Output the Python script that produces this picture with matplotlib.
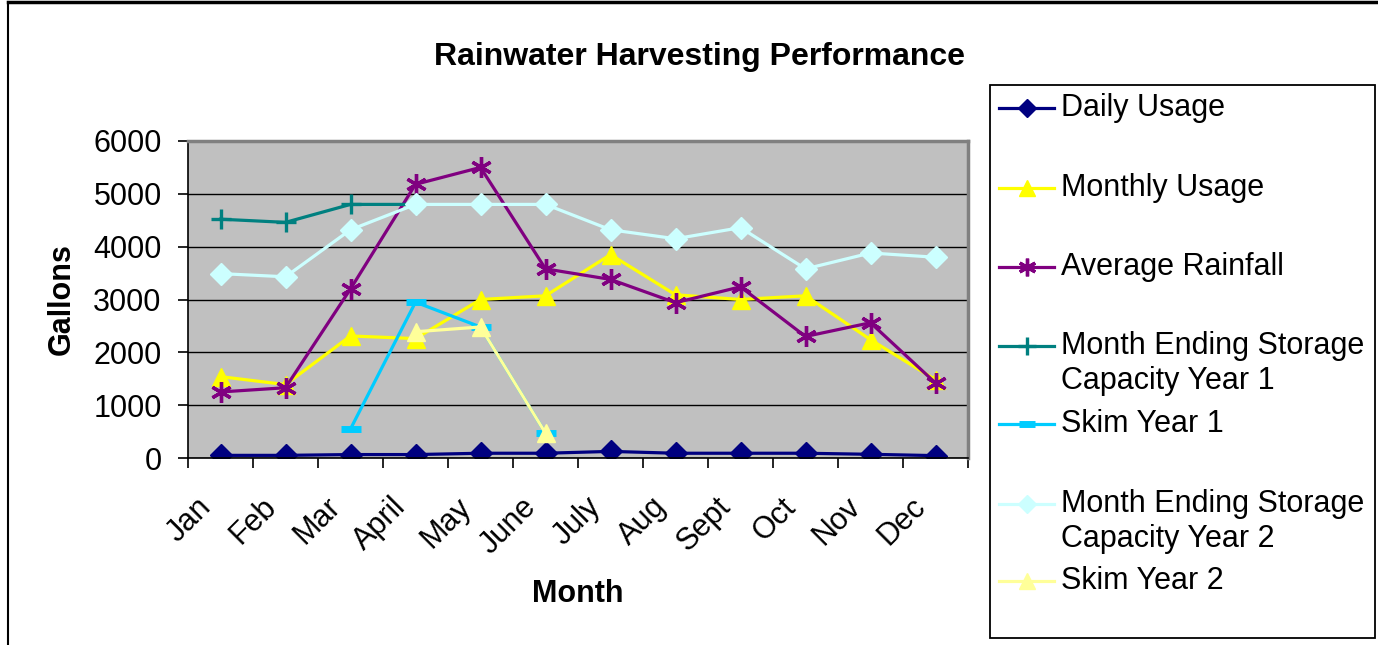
import numpy as np
import matplotlib
matplotlib.use("Agg")
from matplotlib import pyplot as plt
from matplotlib.lines import Line2D
from matplotlib.patches import Rectangle
import matplotlib.transforms as mtransforms

plt.rcParams['font.family'] = ['Liberation Sans', 'DejaVu Sans']

months = ["Jan", "Feb", "Mar", "April", "May", "June", "July", "Aug", "Sept", "Oct", "Nov", "Dec"]
nan = np.nan

daily_usage = [50, 50, 65, 65, 90, 90, 125, 90, 90, 90, 70, 45]
monthly_usage = [1540, 1390, 2310, 2260, 3000, 3070, 3850, 3090, 3000, 3070, 2240, 1480]
avg_rainfall = [1250, 1330, 3200, 5180, 5500, 3580, 3380, 2940, 3240, 2300, 2560, 1420]
storage_y1 = [4520, 4460, 4800, 4800, nan, nan, nan, nan, nan, nan, nan, nan]
skim_y1 = [nan, nan, 550, 2950, 2480, 470, nan, nan, nan, nan, nan, nan]
storage_y2 = [3490, 3430, 4320, 4800, 4800, 4800, 4320, 4150, 4360, 3580, 3880, 3800]
skim_y2 = [nan, nan, nan, 2390, 2480, 470, nan, nan, nan, nan, nan, nan]

labels = ["Daily Usage", "Monthly Usage", "Average Rainfall",
          "Month Ending Storage\nCapacity Year 1", "Skim Year 1",
          "Month Ending Storage\nCapacity Year 2", "Skim Year 2"]
series = [daily_usage, monthly_usage, avg_rainfall, storage_y1, skim_y1, storage_y2, skim_y2]
colors = ["#000080", "#FFFF00", "#800080", "#008080", "#00CCFF", "#CCFFFF", "#FFFF99"]
markers = ["D", "^", (6, 2, 0), "+", "_", "D", "^"]
msizes = [11, 13, 15, 15, 14, 11, 13]
mews = [1, 1, 2.4, 2.4, 5, 1, 1]

W, H = 1378, 645
fig = plt.figure(figsize=(W / 100, H / 100), dpi=100)
ax = fig.add_axes([188 / W, 1 - 458 / H, (968 - 188) / W, (458 - 141) / H])
ax.set_facecolor("#C0C0C0")

x = np.arange(len(months))
for vals, c, m, ms, mw in zip(series, colors, markers, msizes, mews):
    ax.plot(x, vals, color=c, lw=2.3, marker=m, markersize=ms,
            markerfacecolor=c, markeredgecolor=c, markeredgewidth=mw)

ax.set_xlim(-0.5, 11.5)
ax.set_ylim(0, 6000)
ax.set_yticks(np.arange(0, 6001, 1000))
ax.yaxis.grid(True, color="black", lw=1)
ax.set_axisbelow(True)
ax.set_xticks(x)
ax.set_xticklabels(months, rotation=45, ha="right", va="center", rotation_mode="anchor")
ax.set_xticks(np.arange(-0.5, 12, 1), minor=True)
ax.tick_params(axis="x", which="major", length=0, pad=32, labelsize=22)
ax.tick_params(axis="x", which="minor", length=7, width=1.2, direction="out")
ax.tick_params(axis="y", length=7, width=1.2, direction="out", pad=12, labelsize=22)
offset = mtransforms.ScaledTranslation(-14 / 100, 0, fig.dpi_scale_trans)
for lab in ax.get_xticklabels():
    lab.set_transform(lab.get_transform() + offset)

for side in ["top", "right"]:
    ax.spines[side].set_color("#808080")
    ax.spines[side].set_linewidth(2.5)
for side in ["left", "bottom"]:
    ax.spines[side].set_color("black")
    ax.spines[side].set_linewidth(1.2)

ax.set_ylabel("Gallons", fontsize=22, fontweight="bold", labelpad=12)
ax.set_xlabel("Month", fontsize=22, fontweight="bold", labelpad=14)
fig.text(700 / W, 1 - 57 / H, "Rainwater Harvesting Performance",
         fontsize=23, fontweight="bold", ha="center", va="center")

# overlay for legend and chart border, in pixel coordinates
ov = fig.add_axes([0, 0, 1, 1], facecolor="none")
ov.set_xlim(0, W)
ov.set_ylim(H, 0)
ov.axis("off")
ov.add_line(Line2D([8, 8], [2, H], color="black", lw=1.5))
ov.add_line(Line2D([8, W], [2, 2], color="black", lw=2.5))
ov.add_patch(Rectangle((990, 85), 385, 553, fill=False, edgecolor="black", lw=1.3))

rows = [108, 188, 267, 346, 424, 504, 581]
for lbl, c, m, ms, mw, yr in zip(labels, colors, markers, msizes, mews, rows):
    ov.add_line(Line2D([999, 1054], [yr, yr], color=c, lw=2.3))
    ov.add_line(Line2D([1027], [yr], color=c, marker=m, markersize=ms * 0.85,
                       markerfacecolor=c, markeredgecolor=c, markeredgewidth=mw))
    for i, part in enumerate(lbl.split("\n")):
        ov.text(1061, yr + i * 35, part, fontsize=22, ha="left", va="center")

fig.savefig("out.png", dpi=100)
